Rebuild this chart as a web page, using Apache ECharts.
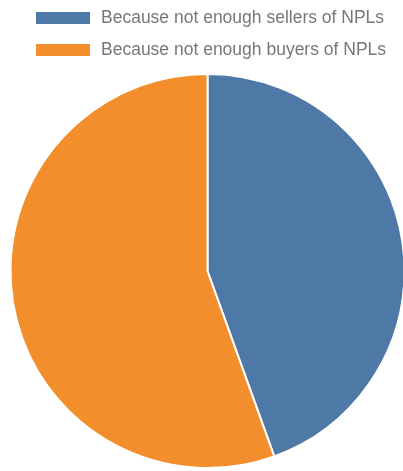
<!DOCTYPE html>
<html><head><meta charset="utf-8">
<script src="https://cdn.jsdelivr.net/npm/echarts@6/dist/echarts.min.js"></script>
<style>html,body{margin:0;padding:0;background:#fff}#c{width:403px;height:471px}</style>
</head><body><div id="c"></div>
<script>
const categories = ["Because not enough sellers of NPLs", "Because not enough buyers of NPLs"];
const values = [44.5, 55.5];
const colors = ["#4E79A7", "#F28E2B"];
const chart = echarts.init(document.getElementById('c'));
chart.setOption({
  animation: false,
  legend: {
    orient: 'vertical', left: 29, top: 4, itemWidth: 56, itemHeight: 14, itemGap: 14,
    icon: 'rect',
    textStyle: { color: '#777', fontSize: 17.5, lineHeight: 18, fontFamily: 'Liberation Sans, Arial, sans-serif', padding: [0,0,0,5] },
    data: categories
  },
  series: [{
    type: 'pie', center: [207.5, 271], radius: 197, startAngle: 90, clockwise: true,
    label: { show: false }, labelLine: { show: false },
    itemStyle: { borderColor: '#fff', borderWidth: 2 },
    data: categories.map((n, i) => ({ name: n, value: values[i], itemStyle: { color: colors[i] } }))
  }]
});
</script></body></html>
